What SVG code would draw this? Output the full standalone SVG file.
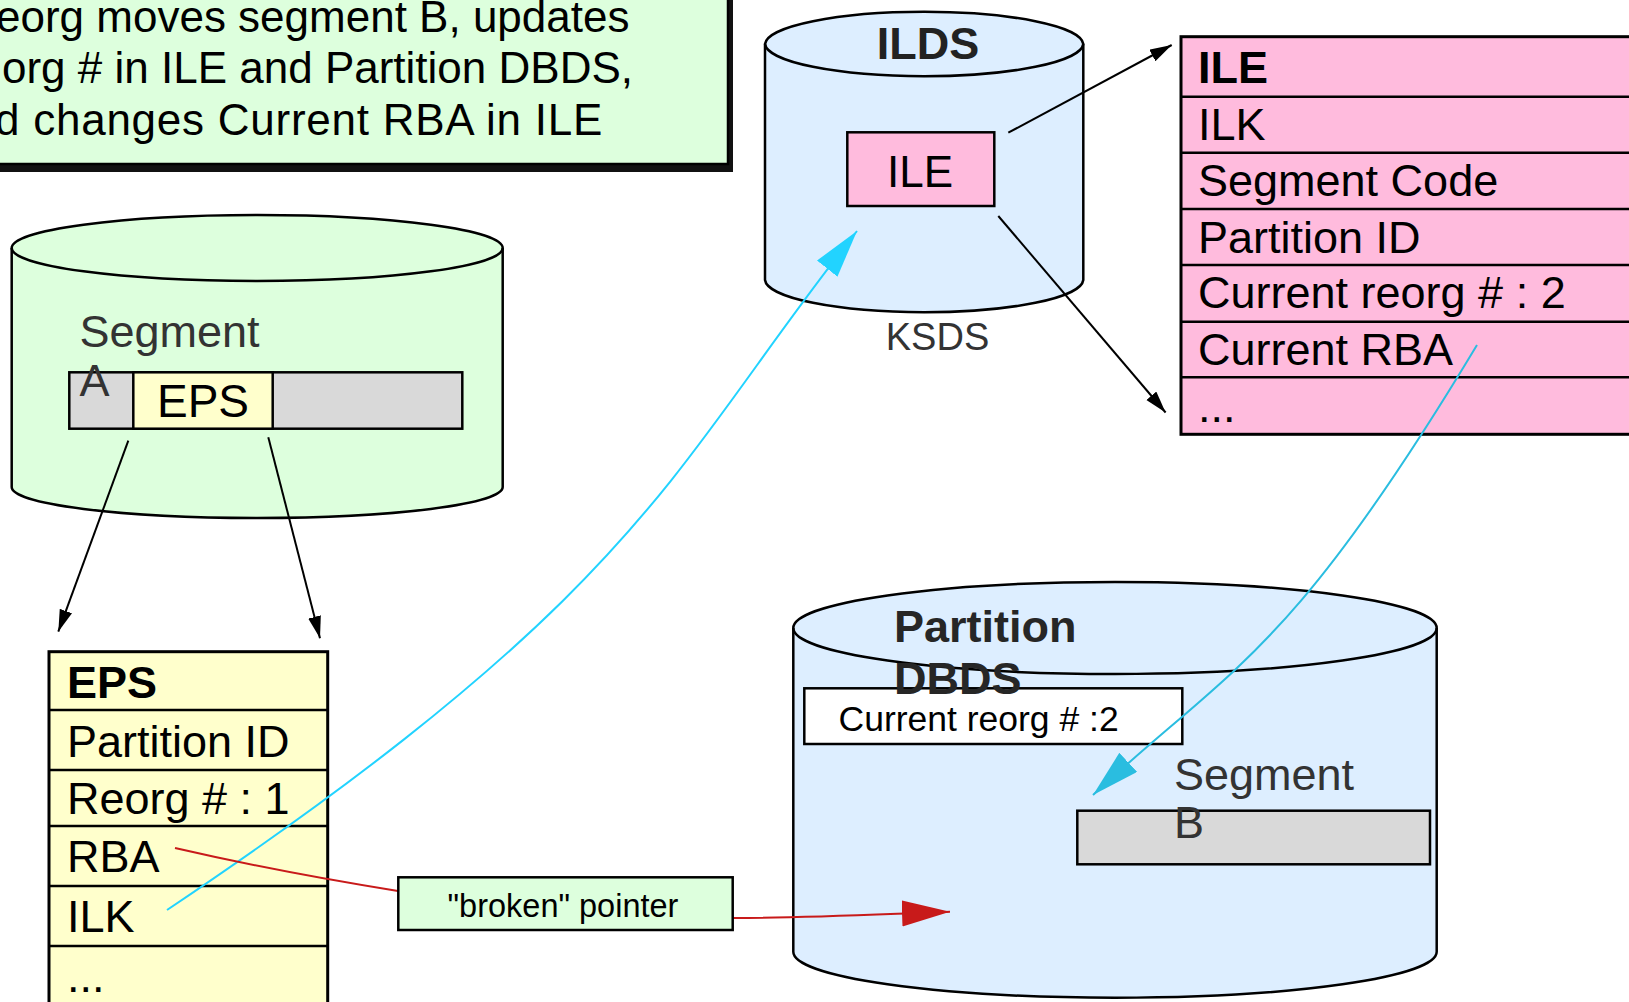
<svg xmlns="http://www.w3.org/2000/svg" width="1629" height="1002" viewBox="0 0 1629 1002">
<style>
text{font-family:"Liberation Sans",Arial,sans-serif;fill:#000}
.big{font-size:45px}
.lbl{font-size:45px;fill:#333}
.bold{font-weight:bold}
.shape{stroke:#000;stroke-width:2.5}
.green{fill:#DDFFDD}
.blue{fill:#DDEEFF}
.pink{fill:#FFBBDD}
.yellow{fill:#FFFFCC}
.grey{fill:#D9D9D9}
.row{stroke:#000;stroke-width:2.5;fill:none}
.conn{fill:none;stroke-width:2}
</style>
<defs>
<marker id="ahBlack" markerUnits="userSpaceOnUse" markerWidth="24" markerHeight="14" refX="22" refY="6.5" orient="auto"><path d="M0,0 L22,6.5 L0,13 z" fill="#000"/></marker>
<marker id="ahCyan1" markerUnits="userSpaceOnUse" markerWidth="50" markerHeight="28" refX="48" refY="13" orient="auto"><path d="M0,0 L48,13 L0,26 z" fill="#22D3FF"/></marker>
<marker id="ahCyan2" markerUnits="userSpaceOnUse" markerWidth="50" markerHeight="28" refX="48" refY="13" orient="auto"><path d="M0,0 L48,13 L0,26 z" fill="#2ABDE0"/></marker>
<marker id="ahRed" markerUnits="userSpaceOnUse" markerWidth="50" markerHeight="28" refX="48" refY="13" orient="auto"><path d="M0,0 L48,13 L0,26 z" fill="#C81A1A"/></marker>
</defs>

<g id="note">
<rect x="-5" y="-5" width="738" height="177" fill="#111"/>
<rect x="-10" y="-10" width="738" height="174" class="shape green"/>
<text x="-4" y="31.5" style="font-size:44px">eorg moves segment B, updates</text>
<text x="2" y="83" style="font-size:44px">org # in ILE and Partition DBDS,</text>
<text x="-5" y="134.5" style="font-size:44px;letter-spacing:0.75px">d changes Current RBA in ILE</text>
</g>

<g id="segmentA-db">
<path class="shape green" d="M11.7,248 A245.5,33 0 0 1 502.7,248 L502.7,487 A245.5,31 0 0 1 11.7,487 Z"/>
<path class="shape" fill="none" d="M11.7,248 A245.5,33 0 0 0 502.7,248"/>
<rect x="69.3" y="372.3" width="393" height="56.4" class="shape grey"/>
<rect x="133.3" y="372.3" width="139.4" height="56.4" class="shape yellow"/>
<text class="lbl" x="79.5" y="346.7">Segment</text>
<text class="lbl" x="79.5" y="396">A</text>
<text x="203" y="417" text-anchor="middle" style="font-size:46px">EPS</text>
</g>

<g id="eps-table">
<rect x="49" y="651.7" width="278.7" height="400" class="yellow" stroke="#000" stroke-width="3"/>
<path class="row" d="M49,710H327.7M49,770H327.7M49,826H327.7M49,886H327.7M49,946H327.7"/>
<text class="big bold" x="67" y="697.7">EPS</text>
<text class="big" x="67" y="756.7">Partition ID</text>
<text class="big" x="67" y="814">Reorg # : 1</text>
<text class="big" x="67" y="871.7">RBA</text>
<text class="big" x="67" y="931.7">ILK</text>
<text class="big" x="67" y="991.7">...</text>
</g>

<g id="ilds-db">
<path class="shape blue" d="M765,44 A159.2,33 0 0 1 1083.3,44 L1083.3,280 A159.2,33 0 0 1 765,280 Z"/>
<path class="shape" fill="none" d="M765,44 A159.2,33 0 0 0 1083.3,44"/>
<text class="bold" x="928" y="59" text-anchor="middle" style="font-size:45px;fill:#222">ILDS</text>
<rect x="847.3" y="132.3" width="147" height="73.7" class="shape pink"/>
<text x="920" y="186.7" text-anchor="middle" style="font-size:44px">ILE</text>
<text x="937.5" y="350" text-anchor="middle" style="font-size:38px;fill:#333">KSDS</text>
</g>

<g id="ile-table">
<rect x="1181" y="36.7" width="500" height="397.6" class="pink" stroke="#000" stroke-width="3"/>
<path class="row" d="M1181,96.7H1640M1181,152.7H1640M1181,209H1640M1181,265H1640M1181,321.7H1640M1181,377.3H1640"/>
<text class="big bold" x="1198" y="83.3">ILE</text>
<text class="big" x="1198" y="140">ILK</text>
<text class="big" x="1198" y="196">Segment Code</text>
<text class="big" x="1198" y="252.7">Partition ID</text>
<text class="big" x="1198" y="308.3">Current reorg # : 2</text>
<text class="big" x="1198" y="365">Current RBA</text>
<text class="big" x="1198" y="421.7">...</text>
</g>

<g id="partition-dbds">
<path class="shape blue" d="M793.3,628 A321.7,46 0 0 1 1436.7,628 L1436.7,951.7 A321.7,46 0 0 1 793.3,951.7 Z"/>
<path class="shape" fill="none" d="M793.3,628 A321.7,46 0 0 0 1436.7,628"/>
<rect x="804.3" y="688.3" width="378" height="55.7" class="shape" fill="#fff"/>
<text x="838.5" y="731" style="font-size:35.5px">Current reorg # :2</text>
<rect x="1077.3" y="810.7" width="352.7" height="53.6" class="shape grey"/>
<text class="bold" x="894" y="641.7" style="font-size:45px;fill:#262626">Partition</text>
<text class="bold" x="894" y="694" style="font-size:45px;fill:#262626">DBDS</text>
<text x="1174" y="790" style="font-size:45px;fill:#333">Segment</text>
<text x="1174" y="838.3" style="font-size:45px;fill:#333">B</text>
</g>

<g id="connectors">
<path class="conn" stroke="#000" d="M128.3,440.7 L58.3,631.7" marker-end="url(#ahBlack)"/>
<path class="conn" stroke="#000" d="M268.3,437.3 L320,638.3" marker-end="url(#ahBlack)"/>
<path class="conn" stroke="#000" d="M1008.3,132.7 L1171.7,45" marker-end="url(#ahBlack)"/>
<path class="conn" stroke="#000" d="M998.3,216 L1165.6,412.5" marker-end="url(#ahBlack)"/>
<path class="conn" stroke="#22D3FF" d="M167,910 C650,586 671,466 857,231" marker-end="url(#ahCyan1)"/>
<path class="conn" stroke="#2ABDE0" d="M1477,345 C1290,656 1231,667 1093,795" marker-end="url(#ahCyan2)"/>
<path class="conn" stroke="#C81A1A" d="M175,848 Q279,872 398,891 L733,918 C800,918 860,915 950,911.7" marker-end="url(#ahRed)"/>
</g>

<g id="broken-pointer">
<rect x="398.3" y="877.3" width="334.4" height="52.7" class="shape green"/>
<text x="563" y="916.7" text-anchor="middle" style="font-size:32.5px">"broken" pointer</text>
</g>
</svg>
